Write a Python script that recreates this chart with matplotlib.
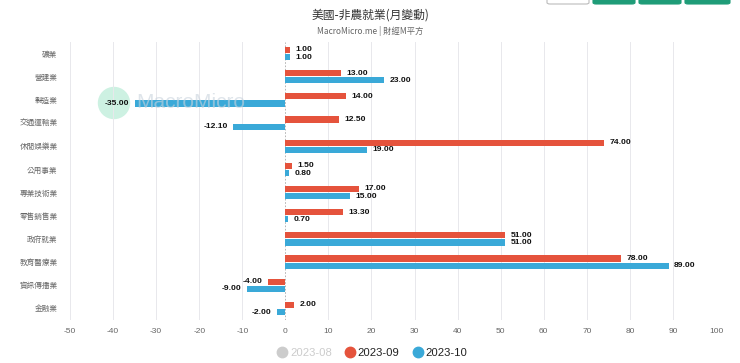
import matplotlib
matplotlib.use("Agg")
import matplotlib.pyplot as plt
from matplotlib.patches import Ellipse, FancyBboxPatch
import numpy as np

CJK = ["Noto Sans CJK TC", "DejaVu Sans"]
NUM = ["Liberation Sans", "DejaVu Sans"]

categories = ["礦業", "營建業", "製造業", "交通運輸業", "休閒娛樂業", "公用事業",
              "專業技術業", "零售銷售業", "政府就業", "教育醫療業", "資訊傳播業", "金融業"]
sep_2023 = [1.0, 13.0, 14.0, 12.5, 74.0, 1.5, 17.0, 13.3, 51.0, 78.0, -4.0, 2.0]
oct_2023 = [1.0, 23.0, -35.0, -12.1, 19.0, 0.8, 15.0, 0.7, 51.0, 89.0, -9.0, -2.0]
x_ticks = list(range(-50, 101, 10))

red = "#e5533c"
blue = "#3aa9d8"

fig = plt.figure(figsize=(7.4, 3.63), dpi=100)
W, H = 740, 363
ax = fig.add_axes([70 / W, 1 - 320 / H, 646 / W, 278 / H])
ax.patch.set_visible(False)

# hover circle (behind the axes)
fig.patches.append(Ellipse((114 / W, 1 - 103 / H), 31 / W, 31 / H, transform=fig.transFigure,
                           color="#cdf1e2", zorder=-1))

y = np.arange(len(categories))
bh = 0.27
off = 0.155

for vals, col, dy in [(sep_2023, red, -off), (oct_2023, blue, off)]:
    ax.barh(y + dy, vals, height=bh, color=col, zorder=3)
    for yi, v in zip(y, vals):
        if v >= 0:
            ax.annotate(f"{v:.2f}", (v, yi + dy), xytext=(4, 0), textcoords="offset points",
                        ha="left", va="center", fontsize=6.1, fontweight="bold",
                        family=NUM, color="#111111", zorder=5)
        else:
            ax.annotate(f"{v:.2f}", (v, yi + dy), xytext=(-4, 0), textcoords="offset points",
                        ha="right", va="center", fontsize=6.1, fontweight="bold",
                        family=NUM, color="#111111", zorder=5)

# watermark, drawn lightly over the bars
ax.text(191 / W, 1 - 103 / H, "MacroMicro", transform=fig.transFigure, family=NUM,
        fontsize=15, color="#c9d3dd", alpha=0.6, ha="center", va="center", zorder=4)

ax.set_xlim(-50, 100)
ax.set_ylim(len(categories) - 0.5, -0.5)
ax.set_xticks(x_ticks)
ax.set_xticklabels([str(t) for t in x_ticks], family=NUM, fontsize=6, color="#666666")
ax.set_yticks(y)
ax.set_yticklabels(categories, family=CJK, fontsize=5.5, color="#666666")
ax.tick_params(axis="x", length=0, pad=6)
ax.tick_params(axis="y", length=0, pad=9)
for s in ax.spines.values():
    s.set_visible(False)
for t in x_ticks:
    if t == 0:
        ax.axvline(t, color="#aaaaaa", lw=0.6, ls=(0, (2, 2)), zorder=2)
    else:
        ax.axvline(t, color="#e8e8ec", lw=0.7, zorder=1)

fig.text(0.5, 1 - 15 / H, "美國-非農就業(月變動)", family=CJK, fontsize=8.5,
         color="#333333", ha="center", va="center")
fig.text(0.5, 1 - 31 / H, "MacroMicro.me | 財經M平方", family=CJK, fontsize=6,
         color="#666666", ha="center", va="center")

# legend
legend_items = [("2023-08", "#cccccc", "#cccccc"), ("2023-09", red, "#222222"),
                ("2023-10", blue, "#222222")]
handles = [plt.Line2D([], [], marker="o", ls="", color=c, markersize=7.5) for _, c, _ in legend_items]
leg = fig.legend(handles, [n for n, _, _ in legend_items], loc="center",
                 bbox_to_anchor=(372 / W, 1 - 353 / H), ncol=3, frameon=False,
                 prop={"family": NUM, "size": 8.1}, handletextpad=0.2, columnspacing=1.1,
                 handlelength=1.0)
for txt, (_, _, tc) in zip(leg.get_texts(), legend_items):
    txt.set_color(tc)

# top-right buttons
for x0, x1, fc, ec in [(547, 589, "white", "#bbbbbb"), (593, 635, "#1f9c78", "#1f9c78"),
                       (639, 681, "#1f9c78", "#1f9c78"), (685, 730, "#1f9c78", "#1f9c78")]:
    fig.patches.append(FancyBboxPatch((x0 / W, 1 - 4 / H), (x1 - x0) / W, 12 / H,
                                      boxstyle="round,pad=0,rounding_size=0.004",
                                      transform=fig.transFigure, fc=fc, ec=ec, lw=0.8))

fig.savefig("out.png", dpi=100)
